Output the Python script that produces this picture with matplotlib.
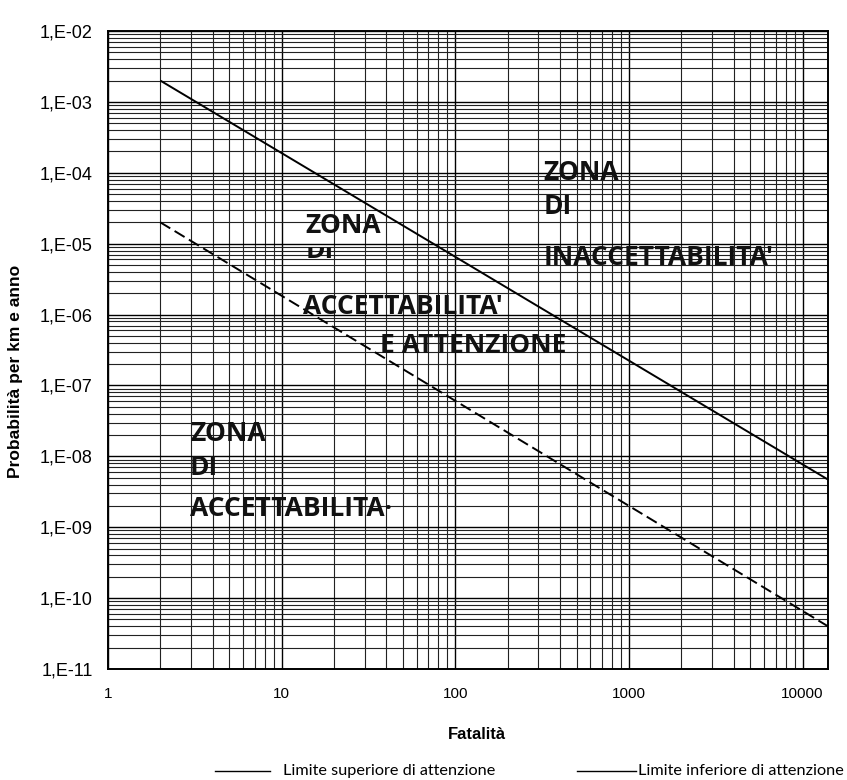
import numpy as np
import matplotlib
matplotlib.use("Agg")
import matplotlib.pyplot as plt
from matplotlib.ticker import LogLocator, NullFormatter, FuncFormatter
from matplotlib.lines import Line2D
from matplotlib.patches import Rectangle

# F-N curve: two limit lines
fatalities = [2, 14000]
limit_upper = [2.0e-3, 4.7e-9]   # solid
limit_lower = [2.0e-5, 4.0e-11]  # dashed

legend_labels = ["Limite superiore di attenzione", "Limite inferiore di attenzione"]

# zone labels: (text, x, y)
zone_texts = [
    ("ZONA", 13.7, 1.8e-5),
    ("ACCETTABILITA'", 13.3, 1.28e-6),
    ("E ATTENZIONE", 37, 3.7e-7),
    ("ZONA", 321, 1.0e-4),
    ("DI", 321, 3.3e-5),
    ("INACCETTABILITA'", 321, 6.3e-6),
    ("ZONA", 2.97, 2.1e-8),
    ("DI", 2.97, 6.9e-9),
    ("ACCETTABILITA\u00b7", 2.97, 1.86e-9),
]
# the half hidden "DI" of the middle zone (text, x, y, visible up to)
hidden_di = ("DI", 13.7, 8.0e-6, 8.9e-6)

fig = plt.figure(figsize=(8.47, 7.80), dpi=100)
ax = fig.add_axes([108 / 847, 111 / 780, 720 / 847, 638 / 780])

ax.set_xscale("log")
ax.set_yscale("log")
ax.set_xlim(1, 14000)
ax.set_ylim(1e-11, 1e-2)

ax.xaxis.set_major_locator(LogLocator(base=10, numticks=20))
ax.xaxis.set_minor_locator(LogLocator(base=10, subs=np.arange(2, 10), numticks=100))
ax.yaxis.set_major_locator(LogLocator(base=10, numticks=20))
ax.yaxis.set_minor_locator(LogLocator(base=10, subs=np.arange(2, 10), numticks=100))
ax.xaxis.set_minor_formatter(NullFormatter())
ax.yaxis.set_minor_formatter(NullFormatter())
ax.xaxis.set_major_formatter(FuncFormatter(lambda v, p: "%d" % round(v)))
ax.yaxis.set_major_formatter(FuncFormatter(lambda v, p: "1,E-%02d" % round(-np.log10(v))))

ax.grid(which="major", color="black", lw=1.0)
ax.grid(which="minor", color="#222222", lw=0.8)
ax.set_axisbelow(True)
for s in ax.spines.values():
    s.set_linewidth(1.4)

ax.tick_params(which="both", length=0)
ax.tick_params(axis="y", pad=11, labelsize=13)
ax.tick_params(axis="x", pad=13, labelsize=11)
for lab in ax.get_xticklabels() + ax.get_yticklabels():
    lab.set_family("Liberation Sans")

ax.plot(fatalities, limit_upper, color="black", lw=1.4, solid_capstyle="butt")
ax.plot(fatalities, limit_lower, color="black", lw=1.4, ls=(0, (6, 2.6)))

for txt, x, y in zone_texts:
    ax.text(x, y, txt, ha="left", va="center", fontsize=19, fontweight="bold",
            family="Open Sans", color="#111111")

t = ax.text(hidden_di[1], hidden_di[2], hidden_di[0], ha="left", va="center", fontsize=19,
            fontweight="bold", family="Open Sans", color="#111111")
clip = Rectangle((1, 1e-11), 1e5, hidden_di[3] - 1e-11, transform=ax.transData)
t.set_clip_on(True)
t.set_clip_path(clip)

ax.set_ylabel("Probabilità per km e anno", fontsize=12.5, fontweight="bold", family="Liberation Sans")
ax.yaxis.set_label_coords(-0.118, 0.467)
ax.set_xlabel("Fatalità", fontsize=12, fontweight="bold", family="Liberation Sans")
ax.xaxis.set_label_coords(0.5125, -0.091)

# legend drawn as in the original: two solid strokes, far apart
leg_y = 1 - 771 / 780
fig.add_artist(Line2D([215 / 847, 270 / 847], [leg_y, leg_y], color="black", lw=1.0,
                      transform=fig.transFigure))
fig.text(283 / 847, leg_y, legend_labels[0], ha="left", va="center", fontsize=11.7,
         family="Lato")
fig.add_artist(Line2D([577 / 847, 636 / 847], [leg_y, leg_y], color="black", lw=1.0,
                      transform=fig.transFigure))
fig.text(638 / 847, leg_y, legend_labels[1], ha="left", va="center", fontsize=11.7,
         family="Lato")

fig.savefig("out.png", dpi=100)
